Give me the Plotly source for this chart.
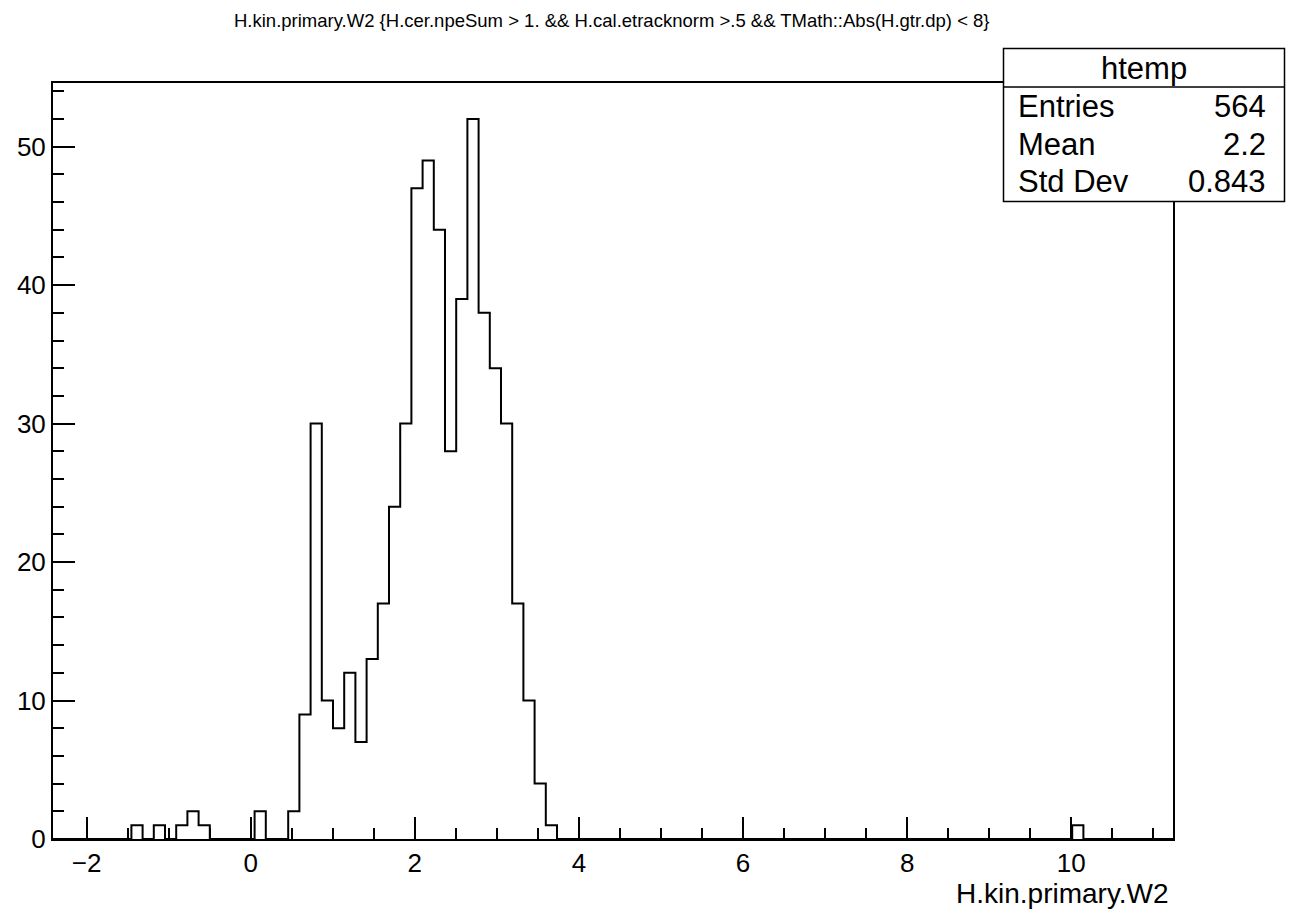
import plotly.graph_objects as go

# Histogram binning of H.kin.primary.W2 (100 bins)
x_min, x_max, n_bins = -2.41, 11.24, 100

# Bin contents (index -> count); all other bins are empty
filled_bins = [7, 9, 11, 12, 13, 18, 21, 22, 23, 24, 25, 26, 27, 28, 29, 30,
               31, 32, 33, 34, 35, 36, 37, 38, 39, 40, 41, 42, 43, 44, 91]
filled_counts = [1, 1, 1, 2, 1, 2, 2, 9, 30, 10, 8, 12, 7, 13, 17, 24,
                 30, 47, 49, 44, 28, 39, 52, 38, 34, 30, 17, 10, 4, 1, 1]

hist_name = "htemp"
stat_mean = "2.2"
stat_std = "0.843"
x_ticks = [-2, 0, 2, 4, 6, 8, 10]
y_ticks = [0, 10, 20, 30, 40, 50]
title_text = ("H.kin.primary.W2 {H.cer.npeSum > 1. && H.cal.etracknorm >.5 "
              "&& TMath::Abs(H.gtr.dp) < 8}")
x_title = "H.kin.primary.W2"

counts = [0] * n_bins
for b, c in zip(filled_bins, filled_counts):
    counts[b] = c
width = (x_max - x_min) / n_bins
edges = [x_min + i * width for i in range(n_bins + 1)]
entries = sum(counts)

# Page and frame geometry in pixels
W, H = 1293, 914
L, R, T, B = 53, 1173, 83, 839
y_top = max(counts) * 1.05

FONT = "Liberation Sans, Arial, Helvetica, sans-serif"


def px_x(px):
    return (px - L) / (R - L)


def px_y(py):
    return (B - py) / (B - T)


fig = go.Figure()
fig.add_trace(go.Scatter(
    x=edges, y=counts + [counts[-1]], mode="lines",
    line=dict(color="black", width=2, shape="hv"),
    hoverinfo="skip", showlegend=False,
))

axis_common = dict(
    showline=True, linecolor="black", linewidth=2, mirror=True,
    showgrid=False, zeroline=False,
    ticks="inside", ticklen=22, tickwidth=1.5, tickcolor="black",
    tickfont=dict(family=FONT, size=26, color="black"),
)

fig.update_xaxes(
    range=[x_min, x_max], tickmode="array", tickvals=x_ticks,
    minor=dict(dtick=0.5, tick0=0, ticks="inside", ticklen=11,
               tickwidth=1.5, tickcolor="black"),
    **axis_common,
)
fig.update_yaxes(
    range=[0, y_top], tickmode="array", tickvals=y_ticks,
    minor=dict(dtick=2, tick0=0, ticks="inside", ticklen=11,
               tickwidth=1.5, tickcolor="black"),
    **axis_common,
)

annotations = [
    dict(text=title_text, x=px_x(612), y=px_y(20), xanchor="center",
         yanchor="middle", font=dict(family=FONT, size=18.5, color="black")),
    dict(text=x_title, x=px_x(1171), y=px_y(893), xanchor="right",
         yanchor="middle", font=dict(family=FONT, size=28, color="black")),
    dict(text=hist_name, x=px_x(1144), y=px_y(68), xanchor="center",
         yanchor="middle", font=dict(family=FONT, size=31, color="black")),
]
rows = [("Entries", str(entries), 106), ("Mean", stat_mean, 144),
        ("Std Dev", stat_std, 181)]
for label, value, ypx in rows:
    annotations.append(dict(text=label, x=px_x(1016), y=px_y(ypx),
                            xanchor="left", yanchor="middle",
                            font=dict(family=FONT, size=31, color="black")))
    annotations.append(dict(text=value, x=px_x(1268), y=px_y(ypx),
                            xanchor="right", yanchor="middle",
                            font=dict(family=FONT, size=31, color="black")))
for a in annotations:
    a.update(xref="paper", yref="paper", showarrow=False)

shapes = [
    dict(type="rect", xref="paper", yref="paper",
         x0=px_x(1003.5), x1=px_x(1284.5), y0=px_y(201.5), y1=px_y(48.5),
         line=dict(color="black", width=1.5), fillcolor="white", layer="above"),
    dict(type="line", xref="paper", yref="paper",
         x0=px_x(1003.5), x1=px_x(1284.5), y0=px_y(87), y1=px_y(87),
         line=dict(color="black", width=1.5), layer="above"),
]

fig.update_layout(
    width=W, height=H,
    margin=dict(l=L, r=W - R, t=T, b=H - B, pad=0),
    paper_bgcolor="white", plot_bgcolor="white",
    annotations=annotations, shapes=shapes,
    showlegend=False,
)

fig.write_html("out.html")
